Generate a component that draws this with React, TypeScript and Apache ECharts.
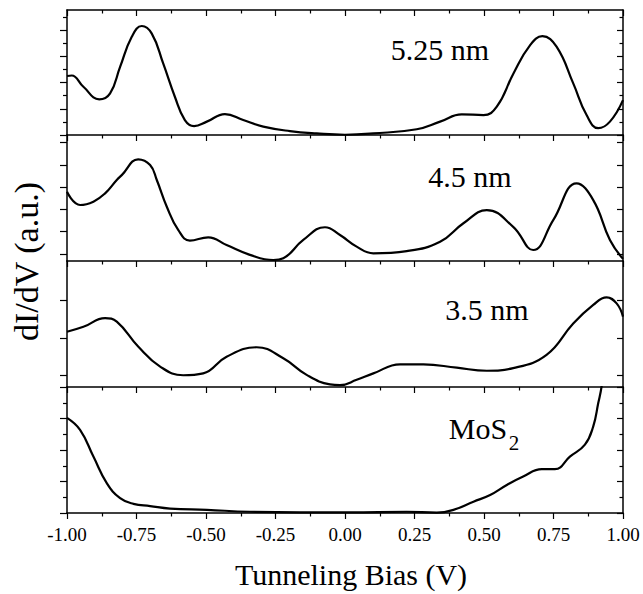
import React, { useEffect, useRef } from "react";
import * as echarts from "echarts";

// 5.25 nm spectrum
const X_525 = [-1.0, -0.983, -0.941, -0.884, -0.845, -0.809, -0.767, -0.731, -0.695, -0.654, -0.612, -0.576, -0.543, -0.497, -0.432, -0.366, -0.294, -0.198, -0.102, 0.0, 0.102, 0.258, 0.342, 0.42, 0.498, 0.546, 0.606, 0.666, 0.71, 0.761, 0.821, 0.869, 0.911, 0.953, 1.0];
const Y_525 = [2.25, 2.27, 1.84, 1.36, 1.59, 2.6, 3.75, 4.16, 3.87, 2.73, 1.46, 0.57, 0.34, 0.51, 0.8, 0.57, 0.32, 0.15, 0.06, 0.01, 0.06, 0.22, 0.51, 0.79, 0.76, 1.08, 2.35, 3.43, 3.77, 3.37, 1.97, 0.76, 0.26, 0.51, 1.33];

// 4.5 nm spectrum
const X_45 = [-1.0, -0.953, -0.905, -0.863, -0.821, -0.803, -0.744, -0.701, -0.677, -0.641, -0.6, -0.558, -0.492, -0.426, -0.342, -0.258, -0.222, -0.15, -0.072, -0.018, 0.042, 0.102, 0.222, 0.342, 0.426, 0.51, 0.605, 0.677, 0.749, 0.833, 0.893, 0.953, 1.0];
const Y_45 = [2.79, 2.2, 2.35, 2.72, 3.32, 3.54, 4.25, 3.99, 3.32, 2.12, 1.08, 0.6, 0.75, 0.4, -0.04, -0.27, -0.19, 0.63, 1.2, 0.85, 0.33, 0.03, 0.13, 0.55, 1.38, 1.97, 1.22, 0.18, 1.52, 3.17, 2.42, 0.63, -0.22];

// 3.5 nm spectrum
const X_35 = [-1.0, -0.941, -0.863, -0.821, -0.744, -0.665, -0.582, -0.51, -0.426, -0.318, -0.222, -0.138, -0.054, -0.018, 0.042, 0.102, 0.198, 0.282, 0.402, 0.51, 0.605, 0.725, 0.821, 0.893, 0.941, 0.977, 1.0];
const Y_35 = [1.16, 1.29, 1.52, 1.43, 0.77, 0.24, 0.01, 0.06, 0.5, 0.75, 0.46, 0.02, -0.23, -0.25, -0.11, 0.06, 0.3, 0.3, 0.21, 0.13, 0.2, 0.55, 1.38, 1.87, 2.07, 1.91, 1.56];

// MoS2 spectrum
const X_MOS2 = [-1.0, -0.953, -0.905, -0.857, -0.809, -0.761, -0.701, -0.629, -0.497, -0.342, 0.018, 0.222, 0.33, 0.39, 0.462, 0.522, 0.582, 0.641, 0.708, 0.755, 0.809, 0.863, 0.893, 0.911, 0.923, 0.935];
const Y_MOS2 = [3.02, 2.64, 1.79, 0.95, 0.47, 0.29, 0.22, 0.14, 0.1, 0.04, 0.02, 0.04, 0.01, 0.1, 0.36, 0.57, 0.89, 1.16, 1.39, 1.39, 1.79, 2.17, 2.75, 3.49, 4.02, 5.0];

const X_TICKS_MIN = -1;
const X_TICKS_MAX = 1;
const X_TICK_STEP = 0.25;

const PANEL_LABELS = ["5.25 nm", "4.5 nm", "3.5 nm", "MoS"];
const SUBSCRIPT = "2";
const X_TITLE = "Tunneling Bias (V)";
const Y_TITLE = "dI/dV (a.u.)";
const Y_MIN = [0, -0.314, -0.3, 0];
const Y_MAX = [4.77, 5.34, 3.03, 4];
const MAJOR_TICKS = [[0, 1, 2, 3, 4], [0, 1, 2, 3, 4, 5], [0, 1, 2], [0, 1, 2, 3, 4]];
const MINOR_TICKS = [[0.5, 1.5, 2.5, 3.5, 4.5], [], [], [0.5, 1.5, 2.5, 3.5]];

const FONT = "'Liberation Serif', 'Times New Roman', Times, serif";

export default function App() {
  const ref = useRef<HTMLDivElement>(null);

  useEffect(() => {
    if (!ref.current) return;
    const chart = echarts.init(ref.current, null, { renderer: "svg" });

    const tops = [10, 135, 261, 387];
    const heights = [125, 126, 126, 126];
    const xs = [X_525, X_45, X_35, X_MOS2];
    const ys = [Y_525, Y_45, Y_35, Y_MOS2];

    const axisLineStyle = { color: "#000", width: 1.5 };
    const tickLine = { color: "#000", width: 1.2 };

    const grid: any[] = tops.map((t, i) => ({ left: 67, width: 556, top: t, height: heights[i] }));
    grid.push({ left: 67, width: 556, top: 10, height: 503 });

    const xAxis: any[] = tops.map((_, i) => ({
      type: "value",
      gridIndex: i,
      min: X_TICKS_MIN,
      max: X_TICKS_MAX,
      interval: X_TICK_STEP,
      position: "bottom",
      name: i === 3 ? X_TITLE : "",
      nameLocation: "middle",
      nameGap: 46,
      nameTextStyle: { fontSize: 30, fontFamily: FONT, color: "#000", padding: [0, 0, 0, 12] },
      axisLine: { show: true, onZero: false, lineStyle: axisLineStyle },
      axisTick: { show: true, inside: false, length: 6, lineStyle: tickLine },
      minorTick: { show: true, splitNumber: 2, length: 3.5, lineStyle: tickLine },
      axisLabel: {
        show: i === 3,
        showMinLabel: true,
        showMaxLabel: true,
        formatter: (v: number) => v.toFixed(2),
        fontSize: 19,
        fontFamily: FONT,
        color: "#000",
        margin: 12,
      },
      splitLine: { show: false },
    }));
    xAxis.push({
      type: "value",
      gridIndex: 0,
      min: X_TICKS_MIN,
      max: X_TICKS_MAX,
      interval: X_TICK_STEP,
      position: "top",
      axisLine: { show: true, onZero: false, lineStyle: axisLineStyle },
      axisTick: { show: true, inside: true, length: 6, lineStyle: tickLine },
      minorTick: { show: true, splitNumber: 2, length: 3.5, lineStyle: tickLine },
      axisLabel: { show: false },
      splitLine: { show: false },
    });
    xAxis.push({
      type: "value",
      gridIndex: 4,
      min: X_TICKS_MIN,
      max: X_TICKS_MAX,
      show: false,
    });

    const yAxis: any[] = [];
    tops.forEach((_, i) => {
      const base = {
        type: "value",
        gridIndex: i,
        min: Y_MIN[i],
        max: Y_MAX[i],
        axisLabel: { show: false },
        splitLine: { show: false },
        minorTick: { show: false },
      };
      yAxis.push({
        ...base,
        position: "left",
        axisLine: { show: true, onZero: false, lineStyle: axisLineStyle },
        axisTick: { show: true, inside: false, length: 7, lineStyle: tickLine, customValues: MAJOR_TICKS[i] },
      });
      yAxis.push({
        ...base,
        position: "right",
        axisLine: { show: true, onZero: false, lineStyle: axisLineStyle },
        axisTick: { show: true, inside: true, length: 6, lineStyle: tickLine, customValues: MAJOR_TICKS[i] },
      });
      yAxis.push({
        ...base,
        position: "left",
        axisLine: { show: false, onZero: false },
        axisTick: { show: MINOR_TICKS[i].length > 0, inside: false, length: 4, lineStyle: tickLine, customValues: MINOR_TICKS[i] },
      });
      yAxis.push({
        ...base,
        position: "right",
        axisLine: { show: false, onZero: false },
        axisTick: { show: MINOR_TICKS[i].length > 0, inside: true, length: 3.5, lineStyle: tickLine, customValues: MINOR_TICKS[i] },
      });
    });
    yAxis.push({
      type: "value",
      gridIndex: 4,
      min: 0,
      max: 1,
      position: "left",
      name: Y_TITLE,
      nameLocation: "middle",
      nameRotate: 90,
      nameGap: 24,
      nameTextStyle: { fontSize: 34, fontFamily: FONT, color: "#000" },
      axisLine: { show: false, onZero: false },
      axisTick: { show: false },
      axisLabel: { show: false },
      splitLine: { show: false },
    });

    const series = tops.map((_, i) => ({
      type: "line",
      name: PANEL_LABELS[i],
      xAxisIndex: i,
      yAxisIndex: 4 * i,
      data: xs[i].map((x, k) => [x, ys[i][k]]),
      showSymbol: false,
      smooth: 0.45,
      clip: true,
      lineStyle: { color: "#000", width: 2.2 },
    }));

    const ttl = (text: string, x: number, y: number, size: number) => ({
      text,
      left: x,
      top: y,
      padding: 0,
      textAlign: "center",
      textVerticalAlign: "middle",
      textStyle: { fontSize: size, fontFamily: FONT, fontWeight: "normal", color: "#000" },
    });

    chart.setOption({
      animation: false,
      backgroundColor: "#fff",
      title: [
        ttl(PANEL_LABELS[0], 440, 49, 30),
        ttl(PANEL_LABELS[1], 470, 176, 30),
        ttl(PANEL_LABELS[2], 487, 309, 30),
        ttl(PANEL_LABELS[3], 478, 428, 30),
        ttl(SUBSCRIPT, 514, 443, 21),
      ],
      grid,
      xAxis,
      yAxis,
      series,
    });

    return () => chart.dispose();
  }, []);

  return <div ref={ref} style={{ position: "fixed", left: 0, top: 0, width: 643, height: 594 }} />;
}
